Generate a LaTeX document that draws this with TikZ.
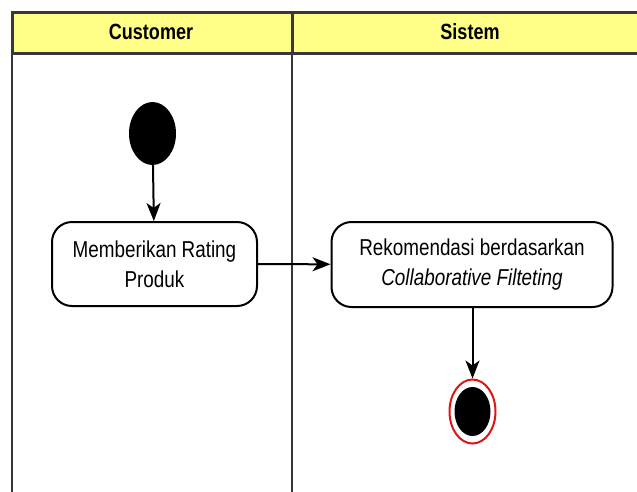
\documentclass[tikz,border=0pt]{standalone}
\usepackage{fontspec}
\setmainfont[FakeStretch=0.82]{Liberation Sans}
\usetikzlibrary{shapes.geometric,arrows.meta}

\definecolor{laneyellow}{RGB}{255,255,136}
\definecolor{laneborder}{RGB}{55,55,60}
\definecolor{endred}{RGB}{225,20,20}

\tikzset{
  actbox/.style={draw=black, line width=2pt, rounded corners=20pt, fill=white,
    align=center, inner sep=0pt, font=\fontsize{23}{30}\selectfont},
  flow/.style={draw=black, line width=2pt, -{Stealth[length=18pt,width=14pt,inset=5pt]}},
  lanehead/.style={font=\bfseries\fontsize{22}{24}\selectfont, inner sep=0pt},
  laneline/.style={draw=laneborder, line width=2pt}
}

\begin{document}
\begin{tikzpicture}[x=1pt,y=-1pt]
  \useasboundingbox (0,0) rectangle (637,491);
  \fill[white] (0,0) rectangle (637,491);

  % swimlane bodies
  \draw[laneline] (12,53) -- (12,495);
  \draw[laneline] (292,53) -- (292,495);

  % header band
  \fill[laneyellow] (12,12) rectangle (645,53);
  \draw[laneborder, line width=3pt] (645,12) -- (12,12) -- (12,53) -- (645,53);
  \draw[laneborder, line width=3pt] (292,12) -- (292,53);
  \node[lanehead] (hcust) at (151,32) {Customer};
  \node[lanehead] (hsys) at (470,32) {Sistem};

  % start node
  \node[ellipse, fill=black, minimum width=47pt, minimum height=63pt, inner sep=0pt] (start) at (152.5,133.5) {};

  % activities
  \node[actbox, minimum width=205pt, minimum height=84pt] (rate) at (154.5,264) {Memberikan Rating\\Produk};
  \node[actbox, minimum width=281pt, minimum height=85pt] (reko) at (472,264.5) {Rekomendasi berdasarkan\\\textit{Collaborative Filteting}};

  % final node
  \node[ellipse, draw=endred, line width=2pt, fill=white, minimum width=46pt, minimum height=64pt, inner sep=0pt] (final) at (472.5,411.5) {};
  \node[ellipse, fill=black, minimum width=36pt, minimum height=49pt, inner sep=0pt] (finalcore) at (final.center) {};

  % control flow
  \draw[flow] (start) -- (rate);
  \draw[flow] (rate) -- (reko);
  \draw[flow] (reko.south -| final) -- (final);
\end{tikzpicture}
\end{document}
